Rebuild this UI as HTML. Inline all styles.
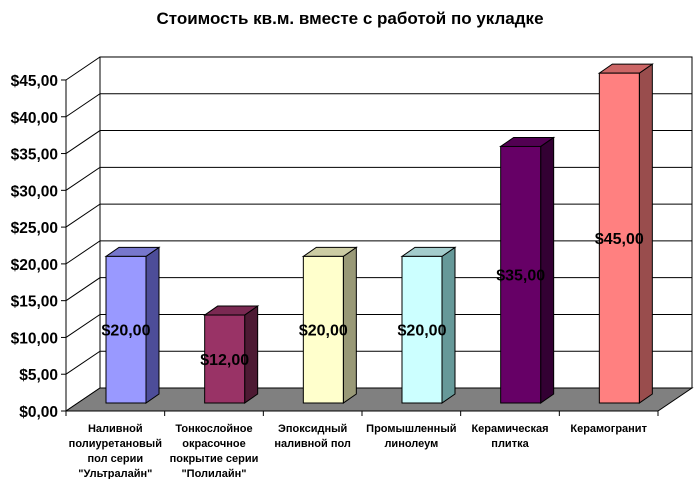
<!DOCTYPE html>
<html><head><meta charset="utf-8"><style>
body{margin:0;background:#fff}
svg{display:block;font-family:"Liberation Sans",Arial,sans-serif}
</style></head><body>
<svg id="c" width="700" height="479" viewBox="0 0 700 479">
<text x="350" y="24" text-anchor="middle" font-size="17" font-weight="bold">Стоимость кв.м. вместе с работой по укладке</text>
<g id="grid"></g><g id="bars"></g><g id="labels"></g>
</svg>
<script>
const categories=[["Наливной","полиуретановый","пол серии","\"Ультралайн\""],["Тонкослойное","окрасочное","покрытие серии","\"Полилайн\""],["Эпоксидный","наливной пол"],["Промышленный","линолеум"],["Керамическая","плитка"],["Керамогранит"]];
const values=[20,12,20,20,35,45];
const valueLabels=["$20,00","$12,00","$20,00","$20,00","$35,00","$45,00"];
const tickValues=[0,5,10,15,20,25,30,35,40,45];
const tickLabels=["$0,00","$5,00","$10,00","$15,00","$20,00","$25,00","$30,00","$35,00","$40,00","$45,00"];
const colors=[["#9999FF","#4D4D99","#7777CC"],["#993366","#4D1A33","#7A2952"],["#FFFFCC","#999977","#CCCCA3"],["#CCFFFF","#669999","#A3CCCC"],["#660066","#330033","#520052"],["#FF8080","#994D4D","#CC6666"]];
const NS="http://www.w3.org/2000/svg";
const X0=66,X1=658,Y0=411,DX=34,DY=-23,K=7.356;
const yFront=v=>Y0-v*K, yBar=v=>403-v*7.33;
const catW=(X1-X0)/categories.length;
function mk(p,t,a){const e=document.createElementNS(NS,t);for(const k in a)e.setAttribute(k,a[k]);p.appendChild(e);return e;}
const g=document.getElementById('grid'),b=document.getElementById('bars'),l=document.getElementById('labels');
// walls
let w=mk(g,'rect',{x:X0+DX,y:yFront(45)+DY,width:X1-X0,height:45*K,fill:'#fff',stroke:'#000','stroke-width':1});

tickValues.forEach((v,i)=>{
 const y=yFront(v);
 let ln=mk(g,'polyline',{points:`${X0},${y} ${X0+DX},${y+DY} ${X1+DX},${y+DY}`,fill:'none',stroke:'#000','stroke-width':1});
 
 mk(g,'line',{x1:X0-5,y1:y,x2:X0,y2:y,stroke:'#000'});
 let t=mk(l,'text',{x:58,y:y+6,'text-anchor':'end','font-size':15.5,'font-weight':'bold'});t.textContent=tickLabels[i];
 
});
let fl=mk(g,'polygon',{points:`${X0},${Y0} ${X1},${Y0} ${X1+DX},${Y0+DY} ${X0+DX},${Y0+DY}`,fill:'#808080',stroke:'#000'});

mk(g,'line',{x1:X0,y1:yFront(45),x2:X0,y2:Y0,stroke:'#000'});
mk(g,'line',{x1:X0,y1:Y0,x2:X1,y2:Y0,stroke:'#000'});
for(let i=0;i<=categories.length;i++){const x=X0+catW*i;mk(g,'line',{x1:x,y1:Y0,x2:x,y2:Y0+5,stroke:'#000'});}
values.forEach((v,i)=>{
 const x=X0+catW*i+40,w=40,dx=13,dy=-9,yt=yBar(v),yb=403,c=colors[i];
 const grp=mk(b,'g',{});
 
 mk(grp,'polygon',{points:`${x+w},${yt} ${x+w+dx},${yt+dy} ${x+w+dx},${yb+dy} ${x+w},${yb}`,fill:c[1],stroke:'#000'});
 mk(grp,'polygon',{points:`${x},${yt} ${x+dx},${yt+dy} ${x+w+dx},${yt+dy} ${x+w},${yt}`,fill:c[2],stroke:'#000'});
 mk(grp,'rect',{x:x,y:yt,width:w,height:yb-yt,fill:c[0],stroke:'#000'});
 let t=mk(l,'text',{x:x+w/2,y:(yt+yb)/2+6,'text-anchor':'middle','font-size':16,'font-weight':'bold'});t.textContent=valueLabels[i];
 
 const cx=X0+catW*i+catW/2;
 categories[i].forEach((s,j)=>{let tt=mk(l,'text',{x:cx,y:432+j*15,'text-anchor':'middle','font-size':11,'font-weight':'bold'});tt.textContent=s;
  });
});
</script>
</body></html>
